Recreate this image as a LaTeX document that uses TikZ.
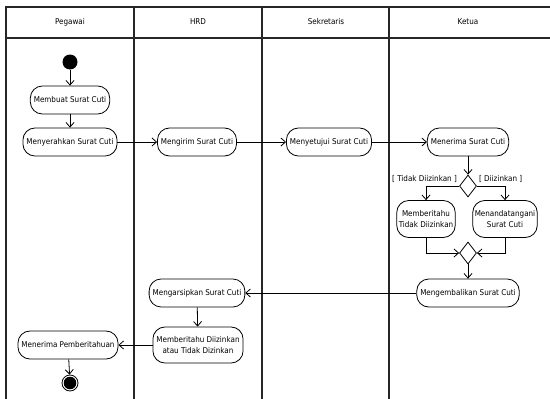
\documentclass[tikz,border=0pt]{standalone}
\usepackage{fontspec}
\setmainfont{DejaVu Sans Condensed}
\usetikzlibrary{arrows.meta,positioning}
\usetikzlibrary{shapes.geometric}
\tikzset{
	%Define standard arrow tip
	>={Straight Barb[length=4.5pt,width=8pt]},
	%Define style for activities
	aksi/.style={
		rectangle,
		rounded corners=12pt,
		draw=black, line width=0.8pt,
		minimum height=28pt,
		inner xsep=3.5pt,
		align=center,
		font=\fontsize{8}{11}\selectfont},
	% Define decision style
	pilihan/.style={
		diamond,
		draw=black, line width=0.8pt,
		minimum width=17pt, minimum height=22pt,
		inner sep=0pt},
	% Define arrow style
	alur/.style={
		->,
		line width=0.8pt},
	% lane lines
	lajur/.style={line width=1.3pt, black!85},
	judul/.style={font=\fontsize{8}{9}\selectfont},
	syarat/.style={font=\fontsize{8}{9}\selectfont, inner sep=0pt}
}
\begin{document}
\begin{tikzpicture}[x=1pt, y=-1pt]
	\useasboundingbox (0,0) rectangle (550,399);

	% swimlanes
	\draw[lajur] (6,402) -- (6,7) -- (553,7);
	\draw[lajur] (6,38) -- (553,38);
	\draw[lajur] (134,7) -- (134,402);
	\draw[lajur] (262,7) -- (262,402);
	\draw[lajur] (389,7) -- (389,402);

	\node[judul] (hPegawai) at (70,22) {Pegawai};
	\node[judul] (hHRD) at (198,22) {HRD};
	\node[judul] (hSekretaris) at (326,22) {Sekretaris};
	\node[judul] (hKetua) at (468,22) {Ketua};

	% Pegawai
	\node[circle, fill=black, minimum size=15pt, inner sep=0pt] (mulai) at (70,62) {};
	\node[aksi] (membuat) at (70,100) {Membuat Surat Cuti};
	\node[aksi] (menyerahkan) at (70,142) {Menyerahkan Surat Cuti};
	\node[aksi] (terimaInfo) at (68,345) {Menerima Pemberitahuan};
	\node[circle, draw=black, line width=0.8pt, minimum size=16pt, inner sep=0pt] (selesai) at (70,383) {};
	\fill (selesai.center) circle (6.3pt);

	% HRD
	\node[aksi] (mengirim) at (197,142) {Mengirim Surat Cuti};
	\node[aksi] (arsip) at (197,293) {Mengarsipkan Surat Cuti};
	\node[aksi, minimum height=36pt] (beritahu) at (198,345) {Memberitahu Diizinkan\\atau Tidak Dizinkan};

	% Sekretaris
	\node[aksi] (menyetujui) at (329,142) {Menyetujui Surat Cuti};

	% Ketua
	\node[aksi] (menerima) at (468,142) {Menerima Surat Cuti};
	\node[pilihan] (cek) at (468,186) {};
	\node[syarat, above left = 3pt and 2pt of cek.west] (gTolak) {[ Tidak Diizinkan ]};
	\node[syarat, above right = 3pt and 2pt of cek.east] (gIzin) {[ Diizinkan ]};
	\node[aksi, minimum height=37pt, inner xsep=2pt] (tolak) at (426,219) {Memberitahu\\Tidak Diizinkan};
	\node[aksi, minimum height=37pt, inner xsep=2pt] (tandatangan) at (505,219) {Menandatangani\\Surat Cuti};
	\node[pilihan] (gabung) at (468,253) {};
	\node[aksi] (kembalikan) at (468,293) {Mengembalikan Surat Cuti};

	\path[alur]
	(mulai) edge (membuat)
	(membuat) edge (menyerahkan)
	(menyerahkan) edge (mengirim)
	(mengirim) edge (menyetujui)
	(menyetujui) edge (menerima)
	(menerima) edge (cek)
	(gabung) edge (kembalikan)
	(kembalikan) edge (arsip)
	(arsip) edge (beritahu)
	(beritahu) edge (terimaInfo)
	(terimaInfo) edge (selesai)
	;
	\draw[alur] (cek.west) -| (tolak.north);
	\draw[alur] (cek.east) -| (tandatangan.north);
	\draw[alur] (tolak.south) |- (gabung.west);
	\draw[alur] (tandatangan.south) |- (gabung.east);

\end{tikzpicture}
\end{document}
